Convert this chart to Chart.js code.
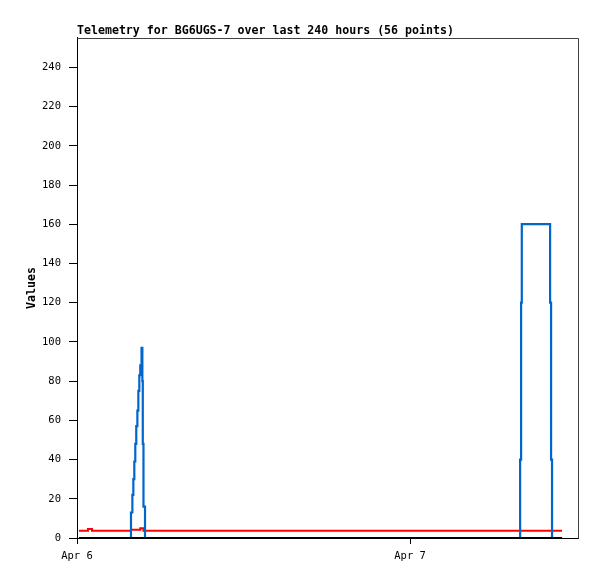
<!DOCTYPE html>
<html>
<head>
<meta charset="utf-8">
<script src="https://cdn.jsdelivr.net/npm/chart.js@4/dist/chart.umd.min.js"></script>
<style>
  html, body { margin: 0; padding: 0; background: #fff; }
  canvas { display: block; }
</style>
</head>
<body>
<canvas id="c" width="597" height="579"></canvas>
<script>
// ---- data (hours since Apr 6 00:00) ----
const titleText = "Telemetry for BG6UGS-7 over last 240 hours (56 points)";
const yAxisTitle = "Values";
const times = [0.14, 0.79, 1.08, 3.89, 3.99, 4.06, 4.13, 4.20, 4.27, 4.35, 4.42, 4.49, 4.56, 4.65, 4.71, 4.74, 4.79, 4.90,
               31.93, 32.00, 32.05, 34.09, 34.16, 34.23, 34.95];
const blueValues = [0, 0, 0, 13, 22, 30, 39, 48, 57, 65, 75, 83, 88, 97, 80, 48, 16, 0,
                    40, 120, 160, 120, 40, 0, 0];
const redValues = [3.7, 4.6, 3.7, 4.2, 4.2, 4.2, 4.2, 4.2, 4.2, 4.2, 4.2, 4.2, 5.0, 5.0, 5.0, 5.0, 3.7, 3.7,
                   3.7, 3.7, 3.7, 3.7, 3.7, 3.7, 3.7];
const blackValues = [0, 0, 0, 0, 0, 0, 0, 0, 0, 0, 0, 0, 0, 0, 0, 0, 0, 0,
                     0, 0, 0, 0, 0, 0, 0];
const xTickHours = [0, 24];
const xTickLabels = ["Apr 6", "Apr 7"];
const yTicks = [0, 20, 40, 60, 80, 100, 120, 140, 160, 180, 200, 220, 240];
const xMin = 0, xMax = 36.1, yMin = 0, yMax = 255;

const toPts = vals => times.map((t, i) => ({ x: t, y: vals[i] }));

const mono = "'DejaVu Sans Mono', 'Liberation Mono', monospace";

const frame = {
  id: 'frame',
  beforeDatasetsDraw(chart) {
    const a = chart.chartArea, ctx = chart.ctx;
    ctx.save();
    ctx.strokeStyle = '#404040';
    ctx.lineWidth = 1;
    ctx.beginPath();
    ctx.moveTo(Math.round(a.left) + 0.5, Math.round(a.top) + 0.5);
    ctx.lineTo(Math.round(a.right) + 0.5, Math.round(a.top) + 0.5);
    ctx.lineTo(Math.round(a.right) + 0.5, Math.round(a.bottom) + 0.5);
    ctx.stroke();
    ctx.restore();
  }
};

new Chart(document.getElementById('c'), {
  type: 'line',
  data: {
    datasets: [
      { data: toPts(blackValues), borderColor: '#000000', borderWidth: 2, pointRadius: 0, stepped: true, fill: false },
      { data: toPts(blueValues), borderColor: '#0066cc', borderWidth: 2.2, pointRadius: 0, stepped: true, fill: false },
      { data: toPts(redValues), borderColor: '#ff0000', borderWidth: 2, pointRadius: 0, stepped: true, fill: false }
    ]
  },
  options: {
    responsive: false,
    animation: false,
    layout: { padding: { left: 0, right: 19, top: 0, bottom: 0 } },
    plugins: {
      legend: { display: false },
      tooltip: { enabled: false },
      title: {
        display: true, text: titleText, align: 'start', fullSize: false, color: '#000',
        font: { family: mono, size: 11.6, weight: 'bold' },
        padding: { top: 24, bottom: 0 }
      }
    },
    scales: {
      x: {
        type: 'linear', min: xMin, max: xMax,
        grid: { drawOnChartArea: false, drawTicks: true, tickLength: 6, color: '#000' },
        border: { display: true, color: '#000', width: 1 },
        ticks: {
          color: '#000', font: { family: mono, size: 10.5 }, padding: 6, maxRotation: 0,
          callback: v => { const i = xTickHours.indexOf(v); return i >= 0 ? xTickLabels[i] : ''; }
        },
        afterBuildTicks: s => { s.ticks = xTickHours.map(v => ({ value: v })); },
        afterFit: s => { s.height = 41; }
      },
      y: {
        type: 'linear', min: yMin, max: yMax,
        grid: { drawOnChartArea: false, drawTicks: true, tickLength: 8, color: '#000' },
        border: { display: true, color: '#000', width: 1 },
        ticks: { color: '#000', font: { family: mono, size: 10.5 }, padding: 8 },
        afterBuildTicks: s => { s.ticks = yTicks.map(v => ({ value: v })); },
        title: {
          display: true, text: yAxisTitle, color: '#000',
          font: { family: mono, size: 11.6, weight: 'bold' },
          padding: { top: 25, bottom: 0 }
        },
        afterFit: s => { s.width = 77; }
      }
    }
  },
  plugins: [frame]
});
</script>
</body>
</html>
